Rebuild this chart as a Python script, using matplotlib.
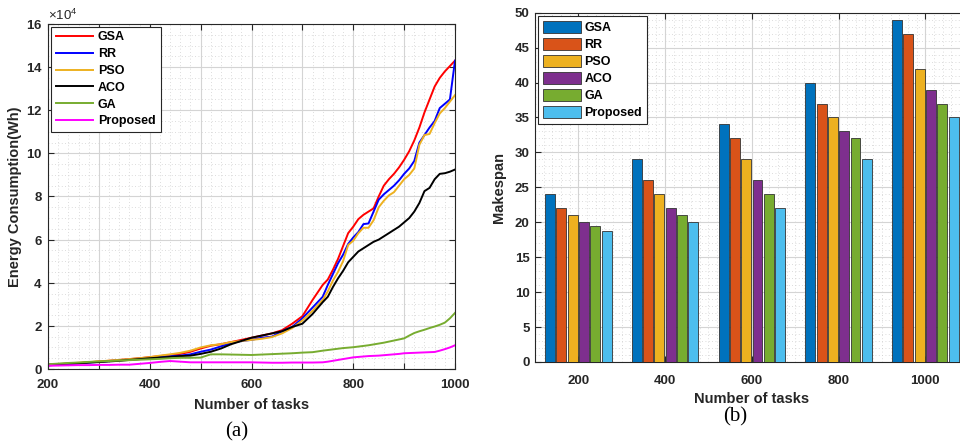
import numpy as np
import matplotlib
matplotlib.use("Agg")
import matplotlib.pyplot as plt
from matplotlib.ticker import ScalarFormatter, MultipleLocator, FixedLocator, FuncFormatter

plt.rcParams['font.family'] = ['Liberation Sans', 'DejaVu Sans']
plt.rcParams['mathtext.fontset'] = 'custom'
plt.rcParams['mathtext.rm'] = 'Liberation Sans'

# --- energy consumption (units of 1e4 Wh) ---
tasks = list(range(200, 741, 20)) + list(range(750, 1001, 10))

gsa_energy = [0.17, 0.2, 0.24, 0.27, 0.31, 0.35, 0.38, 0.42, 0.46, 0.5, 0.55, 0.6, 0.65, 0.7,
              0.8, 0.95, 1.08, 1.15, 1.25, 1.35, 1.45, 1.55, 1.65, 1.8, 2.1, 2.45, 3.2, 3.9,
              4.15, 4.6, 5.1, 5.7, 6.3, 6.6, 6.95, 7.15, 7.3, 7.45, 8.0, 8.5, 8.8, 9.05,
              9.35, 9.7, 10.1, 10.6, 11.2, 11.9, 12.5, 13.1, 13.5, 13.8, 14.05, 14.3]
rr_energy = [0.17, 0.2, 0.23, 0.26, 0.3, 0.33, 0.37, 0.4, 0.44, 0.48, 0.52, 0.56, 0.59, 0.62,
             0.68, 0.8, 0.9, 1.05, 1.2, 1.3, 1.35, 1.45, 1.5, 1.75, 1.95, 2.35, 2.85, 3.35,
             3.9, 4.4, 4.9, 5.3, 5.8, 6.1, 6.35, 6.72, 6.75, 7.3, 7.85, 8.1, 8.3, 8.5,
             8.75, 9.05, 9.3, 9.65, 10.5, 10.85, 11.2, 11.5, 12.1, 12.3, 12.5, 14.3]
pso_energy = [0.2, 0.23, 0.26, 0.29, 0.32, 0.35, 0.39, 0.42, 0.46, 0.5, 0.55, 0.62, 0.68, 0.75,
              0.85, 1.0, 1.1, 1.15, 1.25, 1.3, 1.35, 1.4, 1.48, 1.65, 1.9, 2.25, 2.7, 3.2,
              3.6, 4.1, 4.5, 5.0, 5.75, 5.95, 6.3, 6.55, 6.55, 6.9, 7.5, 7.8, 8.05, 8.2,
              8.5, 8.8, 9.0, 9.3, 10.4, 10.85, 10.9, 11.4, 11.85, 12.1, 12.4, 12.7]
aco_energy = [0.2, 0.22, 0.25, 0.27, 0.3, 0.32, 0.35, 0.38, 0.42, 0.46, 0.5, 0.53, 0.56, 0.6,
              0.62, 0.7, 0.8, 0.95, 1.15, 1.3, 1.45, 1.55, 1.65, 1.75, 1.95, 2.1, 2.55, 3.1,
              3.35, 3.8, 4.2, 4.55, 4.95, 5.2, 5.45, 5.6, 5.75, 5.9, 6.0, 6.15, 6.3, 6.45,
              6.6, 6.8, 7.0, 7.3, 7.7, 8.25, 8.4, 8.8, 9.05, 9.08, 9.15, 9.25]
ga_energy = [0.22, 0.25, 0.28, 0.3, 0.33, 0.35, 0.37, 0.39, 0.41, 0.43, 0.45, 0.47, 0.5, 0.52,
             0.52, 0.53, 0.68, 0.68, 0.67, 0.66, 0.65, 0.67, 0.69, 0.71, 0.73, 0.76, 0.78, 0.85,
             0.88, 0.91, 0.94, 0.97, 0.99, 1.01, 1.04, 1.07, 1.1, 1.14, 1.18, 1.22, 1.27, 1.32,
             1.37, 1.42, 1.55, 1.67, 1.75, 1.82, 1.9, 1.97, 2.05, 2.15, 2.35, 2.6]
proposed_energy = [0.15, 0.16, 0.17, 0.18, 0.18, 0.19, 0.19, 0.2, 0.2, 0.24, 0.28, 0.33, 0.37, 0.34,
                   0.31, 0.31, 0.31, 0.31, 0.31, 0.31, 0.31, 0.3, 0.29, 0.29, 0.3, 0.3, 0.3, 0.31,
                   0.34, 0.38, 0.42, 0.46, 0.5, 0.54, 0.56, 0.58, 0.6, 0.61, 0.62, 0.64, 0.66, 0.68,
                   0.7, 0.73, 0.74, 0.75, 0.76, 0.77, 0.78, 0.79, 0.85, 0.92, 1.0, 1.1]

algorithms = ['GSA', 'RR', 'PSO', 'ACO', 'GA', 'Proposed']
line_colors = ['#ff0000', '#0000ff', '#EDB120', '#000000', '#77AC30', '#ff00ff']

# --- makespan per task count ---
task_groups = ['200', '400', '600', '800', '1000']
makespan = {
    'GSA': [24, 29, 34, 40, 49],
    'RR': [22, 26, 32, 37, 47],
    'PSO': [21, 24, 29, 35, 42],
    'ACO': [20, 22, 26, 33, 39],
    'GA': [19.5, 21, 24, 32, 37],
    'Proposed': [18.8, 20, 22, 29, 35],
}
bar_colors = ['#0072BD', '#D95319', '#EDB120', '#7E2F8E', '#77AC30', '#4DBEEE']

fig = plt.figure(figsize=(9.6, 4.46), dpi=100)
W, H = 960.0, 446.0


def style_axes(ax):
    ax.tick_params(which='both', direction='in', top=True, right=True,
                   labelsize=9.5, width=0.8, colors='#262626')
    ax.tick_params(which='major', length=4)
    ax.tick_params(which='minor', length=0)
    ax.tick_params(axis='x', which='major', pad=7)
    ax.tick_params(axis='y', which='major', pad=4)
    for lab in ax.get_xticklabels() + ax.get_yticklabels():
        lab.set_fontweight('bold')
    for s in ax.spines.values():
        s.set_color('#262626')
        s.set_linewidth(0.8)
    ax.grid(which='major', color='#d4d4d4', linewidth=0.8, linestyle='-')
    ax.grid(which='minor', color='#d0d0d0', linewidth=0.6, linestyle=(0, (1, 3)))
    ax.set_axisbelow(True)


# ---------- (a) energy consumption ----------
ax1 = fig.add_axes([48 / W, 1 - 369 / H, 407 / W, 345 / H])
series = [gsa_energy, rr_energy, pso_energy, aco_energy, ga_energy, proposed_energy]
x = np.array(tasks)
for name, vals, c in zip(algorithms, series, line_colors):
    ax1.plot(x, np.array(vals) * 1e4, color=c, lw=1.4, label=name)

ax1.set_xlim(200, 1000)
ax1.set_ylim(0, 16e4)
ax1.xaxis.set_major_locator(MultipleLocator(100))
ax1.xaxis.set_minor_locator(MultipleLocator(20))
ax1.xaxis.set_major_formatter(FuncFormatter(lambda v, p: f"{int(v)}" if int(v) % 200 == 0 else ""))
ax1.yaxis.set_major_locator(MultipleLocator(2e4))
ax1.yaxis.set_minor_locator(MultipleLocator(0.5e4))
fmt = ScalarFormatter(useMathText=True)
fmt.set_powerlimits((4, 4))
ax1.yaxis.set_major_formatter(fmt)
style_axes(ax1)
ax1.yaxis.get_offset_text().set_fontsize(9.5)
ax1.set_xlabel('Number of tasks', fontsize=10.5, fontweight='bold', color='#262626', labelpad=5)
ax1.set_ylabel('Energy Consumption(Wh)', fontsize=10.5, fontweight='bold', color='#262626', labelpad=3)
leg1 = ax1.legend(loc='upper left', prop={'weight': 'bold', 'size': 9}, handlelength=3.0,
                  handletextpad=0.4, labelspacing=0.38, borderaxespad=0.2, fancybox=False,
                  framealpha=1, edgecolor='#262626')
leg1.get_frame().set_linewidth(0.8)

# ---------- (b) makespan ----------
ax2 = fig.add_axes([535 / W, 1 - 362 / H, 433.7 / W, 349.3 / H])
pos = np.arange(1, len(task_groups) + 1)
step, width = 0.13, 0.115
for j, (name, c) in enumerate(zip(algorithms, bar_colors)):
    ax2.bar(pos + (j - 2.5) * step, makespan[name], width=width, color=c,
            edgecolor='#333333', linewidth=0.6, label=name, zorder=3)

ax2.set_xlim(0.5, 5.5)
ax2.set_ylim(0, 50)
ax2.xaxis.set_major_locator(FixedLocator(pos))
ax2.set_xticklabels(task_groups)
ax2.xaxis.set_minor_locator(MultipleLocator(0.1))
ax2.yaxis.set_major_locator(MultipleLocator(5))
ax2.yaxis.set_minor_locator(MultipleLocator(1))
style_axes(ax2)
ax2.tick_params(axis='x', which='major', pad=9)
ax2.set_xlabel('Number of tasks', fontsize=10.5, fontweight='bold', color='#262626', labelpad=4)
ax2.set_ylabel('Makespan', fontsize=10.5, fontweight='bold', color='#262626', labelpad=6)
leg2 = ax2.legend(loc='upper left', prop={'weight': 'bold', 'size': 9}, handlelength=3.0,
                  handleheight=1.1, handletextpad=0.3, labelspacing=0.3, borderaxespad=0.25,
                  fancybox=False, framealpha=1, edgecolor='#262626')
leg2.get_frame().set_linewidth(0.8)

fig.text(237 / W, 1 - 432 / H, '(a)', family='Liberation Serif', fontsize=15,
         ha='center', va='center')
fig.text(735 / W, 1 - 417 / H, '(b)', family='Liberation Serif', fontsize=15,
         ha='center', va='center')

fig.savefig('out.png', dpi=100)
